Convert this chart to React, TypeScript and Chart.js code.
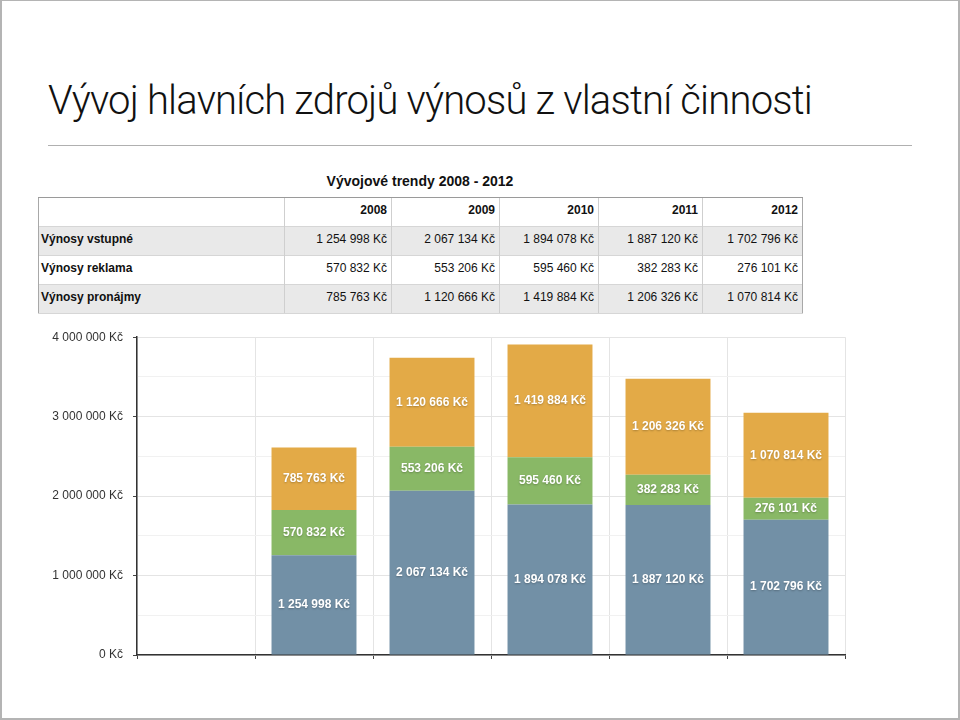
import React, { useEffect, useRef } from "react";
import { Chart, registerables } from "chart.js";

Chart.register(...registerables);

const categories = ["", "2008", "2009", "2010", "2011", "2012"];
const years = ["2008", "2009", "2010", "2011", "2012"];
const seriesNames = ["Výnosy vstupné", "Výnosy reklama", "Výnosy pronájmy"];
const vstupne = [1254998, 2067134, 1894078, 1887120, 1702796];
const reklama = [570832, 553206, 595460, 382283, 276101];
const pronajmy = [785763, 1120666, 1419884, 1206326, 1070814];
const seriesColors = ["#7290a6", "#89b866", "#e3aa47"];
const yMax = 4000000;
const yStep = 500000;

const TITLE = "Vývoj hlavních zdrojů výnosů z vlastní činnosti";
const TABLE_TITLE = "Vývojové trendy 2008 - 2012";

const FONT = '"Liberation Sans", Arial, Helvetica, sans-serif';

function fmt(v: number): string {
  return String(Math.round(v)).replace(/\B(?=(\d{3})+(?!\d))/g, " ") + " Kč";
}

const colEdges = [38, 284, 391, 499, 598, 702, 802];
const rowTop = 197;
const rowH = 29;

const segLabels = {
  id: "segLabels",
  afterDatasetsDraw(chart: any) {
    const ctx = chart.ctx;
    ctx.save();
    ctx.font = "bold 12px " + FONT;
    ctx.fillStyle = "#ffffff";
    ctx.textAlign = "center";
    ctx.textBaseline = "middle";
    ctx.shadowColor = "rgba(0,0,0,0.25)";
    ctx.shadowBlur = 2;
    ctx.shadowOffsetY = 1;
    chart.data.datasets.forEach((ds: any, i: number) => {
      const meta = chart.getDatasetMeta(i);
      meta.data.forEach((el: any, j: number) => {
        const v = ds.data[j];
        if (v == null) return;
        const p = el.getProps(["x", "y", "base"], true);
        ctx.fillText(fmt(v), p.x, (p.y + p.base) / 2);
      });
    });
    ctx.restore();
  },
};

function BarChart() {
  const ref = useRef<HTMLCanvasElement>(null);
  useEffect(() => {
    if (!ref.current) return;
    const series = [vstupne, reklama, pronajmy];
    const chart = new Chart(ref.current, {
      type: "bar",
      data: {
        labels: categories,
        datasets: series.map((s, i) => ({
          label: seriesNames[i],
          data: [null, ...s],
          backgroundColor: seriesColors[i],
          borderWidth: 0,
          categoryPercentage: 1,
          barPercentage: 0.72,
        })),
      },
      options: {
        responsive: false,
        animation: false,
        layout: { padding: { top: 15, right: 115, bottom: 0, left: 0 } },
        plugins: { legend: { display: false }, tooltip: { enabled: false } },
        scales: {
          x: {
            stacked: true,
            offset: true,
            grid: {
              offset: true,
              color: "#e4e4e4",
              tickColor: "#444",
              tickLength: 4,
            },
            border: { color: "#333", width: 1.5 },
            ticks: { display: false },
            afterFit(scale: any) {
              scale.height = 65;
            },
          },
          y: {
            stacked: true,
            min: 0,
            max: yMax,
            grid: {
              color: (c: any) =>
                c.tick && c.tick.value % 1000000 === 0 ? "#e4e4e4" : "#f1f1f1",
              tickColor: (c: any) =>
                c.tick && c.tick.value % 1000000 === 0 ? "#444" : "rgba(0,0,0,0)",
              tickLength: 4,
            },
            border: { color: "#333", width: 1.5 },
            ticks: {
              stepSize: yStep,
              padding: 10,
              color: "#333",
              font: { family: FONT, size: 12 },
              callback: (v: any) => (Number(v) % 1000000 === 0 ? fmt(Number(v)) : ""),
            },
            afterFit(scale: any) {
              scale.width = 137;
            },
          },
        },
      },
      plugins: [segLabels],
    });
    return () => chart.destroy();
  }, []);
  return (
    <canvas
      ref={ref}
      width={960}
      height={400}
      style={{ position: "absolute", left: 0, top: 320, width: 960, height: 400 }}
    />
  );
}

function DataTable() {
  const rows = [vstupne, reklama, pronajmy];
  const cells: any[] = [];
  years.forEach((y, ci) => {
    cells.push(
      <div
        key={"h" + ci}
        style={{
          position: "absolute",
          left: colEdges[ci + 1],
          top: rowTop,
          width: colEdges[ci + 2] - colEdges[ci + 1] - 4,
          height: rowH,
          lineHeight: rowH - 3 + "px",
          textAlign: "right",
          fontWeight: "bold",
          whiteSpace: "nowrap",
        }}
      >
        {y}
      </div>
    );
  });
  rows.forEach((r, ri) => {
    const top = rowTop + rowH * (ri + 1);
    cells.push(
      <div
        key={"bg" + ri}
        style={{
          position: "absolute",
          left: colEdges[0],
          top,
          width: colEdges[6] - colEdges[0],
          height: rowH,
          background: ri % 2 === 0 ? "#e9e9e9" : "#ffffff",
          borderTop: "1px solid #d6d6d6",
          boxSizing: "border-box",
        }}
      />
    );
    cells.push(
      <div
        key={"l" + ri}
        style={{
          position: "absolute",
          left: colEdges[0] + 3,
          top,
          height: rowH,
          lineHeight: rowH - 3 + "px",
          fontWeight: "bold",
          whiteSpace: "nowrap",
        }}
      >
        {seriesNames[ri]}
      </div>
    );
    r.forEach((v, ci) => {
      cells.push(
        <div
          key={"c" + ri + "_" + ci}
          style={{
            position: "absolute",
            left: colEdges[ci + 1],
            top,
            width: colEdges[ci + 2] - colEdges[ci + 1] - 4,
            height: rowH,
            lineHeight: rowH - 3 + "px",
            textAlign: "right",
            whiteSpace: "nowrap",
          }}
        >
          {fmt(v)}
        </div>
      );
    });
  });
  const vlines = colEdges.map((x, i) => (
    <div
      key={"v" + i}
      style={{
        position: "absolute",
        left: x,
        top: rowTop,
        width: 1,
        height: rowH * 4,
        background: i === 0 || i === 6 ? "#a8a8a8" : "#cfcfcf",
      }}
    />
  ));
  return (
    <div style={{ position: "absolute", left: 0, top: 0, fontSize: 12, color: "#111" }}>
      <div
        style={{
          position: "absolute",
          left: colEdges[0],
          width: colEdges[6] - colEdges[0],
          top: 171,
          lineHeight: "20px",
          textAlign: "center",
          fontWeight: "bold",
          fontSize: 14,
          whiteSpace: "nowrap",
        }}
      >
        {TABLE_TITLE}
      </div>
      {cells}
      {vlines}
      <div
        style={{
          position: "absolute",
          left: colEdges[0],
          top: rowTop,
          width: colEdges[6] - colEdges[0] + 1,
          height: 1,
          background: "#9a9a9a",
        }}
      />
      <div
        style={{
          position: "absolute",
          left: colEdges[0],
          top: rowTop + rowH * 4,
          width: colEdges[6] - colEdges[0] + 1,
          height: 1,
          background: "#d6d6d6",
        }}
      />
    </div>
  );
}

export default function App() {
  return (
    <div
      style={{
        position: "absolute",
        left: 0,
        top: 0,
        width: 960,
        height: 720,
        boxSizing: "border-box",
        border: "2px solid #b4b4b4",
        borderTopWidth: 1,
        background: "#fff",
        fontFamily: FONT,
        overflow: "hidden",
      }}
    >
      <div style={{ position: "absolute", left: -2, top: -1, width: 960, height: 720 }}>
        <div
          style={{
            position: "absolute",
            left: 48,
            top: 81,
            fontSize: 40,
            lineHeight: "40px",
            fontWeight: 300,
            fontFamily: 'Roboto, "Liberation Sans", sans-serif',
            color: "#111",
            whiteSpace: "nowrap",
            letterSpacing: -0.8,
          }}
        >
          {TITLE}
        </div>
        <div
          style={{
            position: "absolute",
            left: 48,
            top: 145,
            width: 864,
            height: 1,
            background: "#b0b0b0",
          }}
        />
        <DataTable />
        <BarChart />
      </div>
    </div>
  );
}
